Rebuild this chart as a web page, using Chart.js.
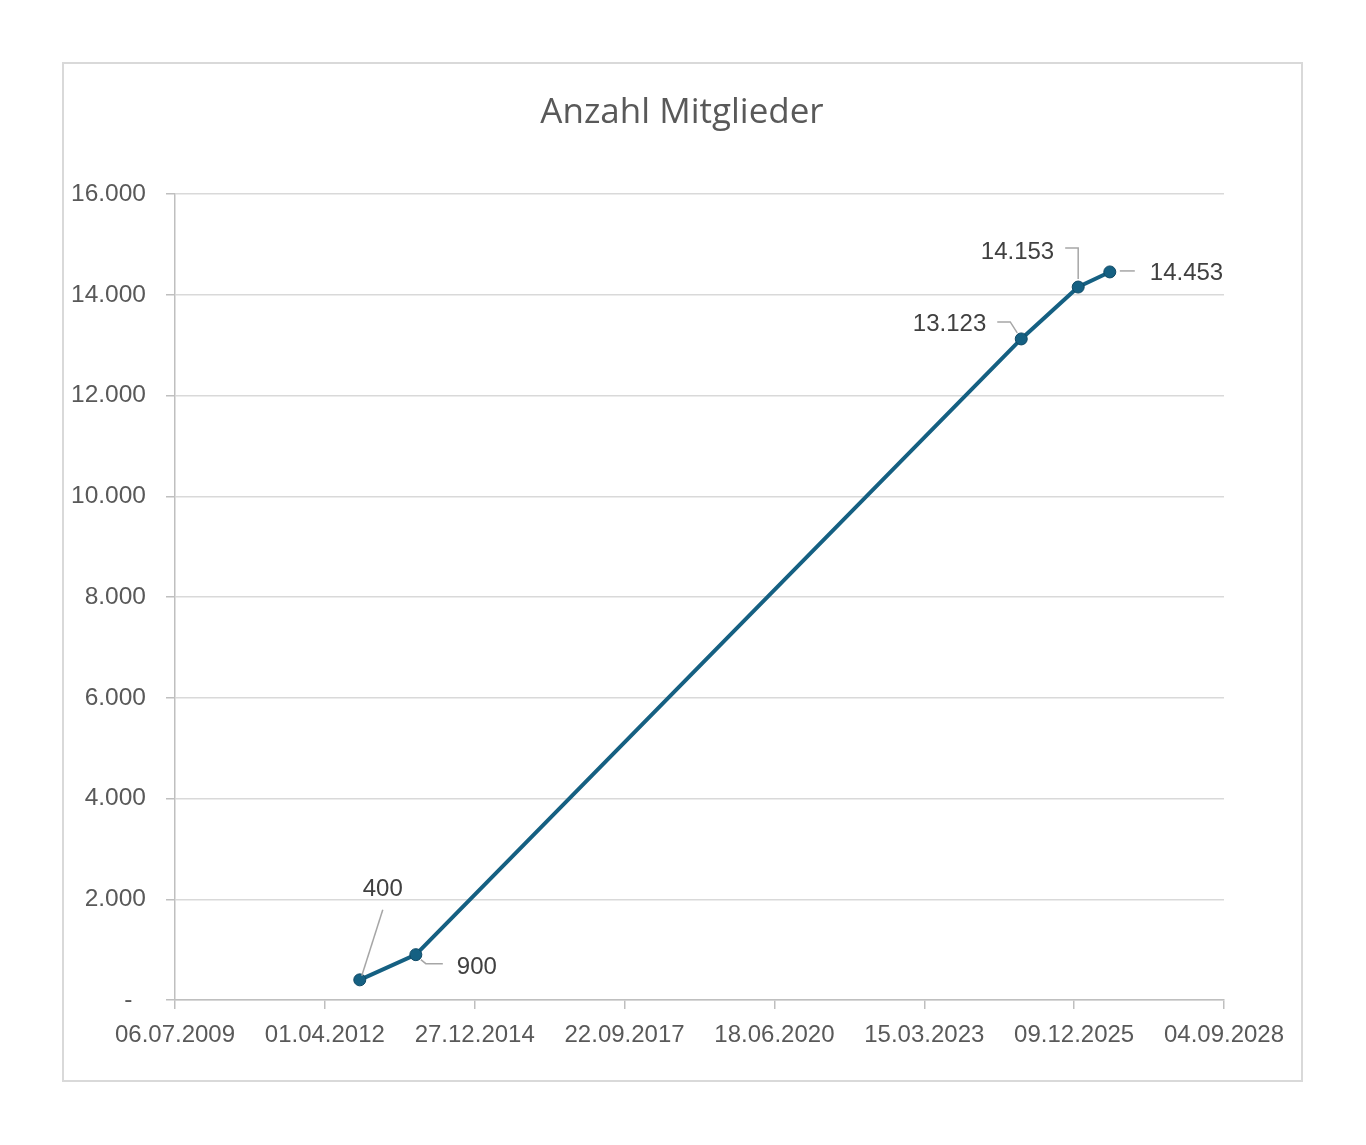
<!DOCTYPE html>
<html><head><meta charset="utf-8">
<script src="https://cdn.jsdelivr.net/npm/chart.js@4.4.0/dist/chart.umd.min.js"></script>
<style>html,body{margin:0;padding:0;background:#fff}#wrap{position:relative;width:1366px;height:1145px}</style>
</head><body><div id="wrap"><canvas id="c"></canvas></div>
<script>
// ---- data ----
const chartTitle = 'Anzahl Mitglieder';
const dates = ['2012-11-20', '2013-11-29', '2024-12-21', '2026-01-05', '2026-08-04'];
const members = [400, 900, 13123, 14153, 14453];
const xAxisFirstTick = '06.07.2009';
const xAxisLastTick = '04.09.2028';
const xTickStepDays = 1000;
const yMin = 0, yMax = 16000, yStep = 2000;

// ---- helpers ----
function isoToSerial(s) { const [y, m, d] = s.split('-').map(Number); return Math.round((Date.UTC(y, m - 1, d) - Date.UTC(1899, 11, 30)) / 86400000); }
function deToSerial(s) { const [d, m, y] = s.split('.').map(Number); return isoToSerial(y + '-' + m + '-' + d); }
function serialToDe(n) { const t = new Date(Date.UTC(1899, 11, 30) + n * 86400000); const p = v => String(v).padStart(2, '0'); return p(t.getUTCDate()) + '.' + p(t.getUTCMonth() + 1) + '.' + t.getUTCFullYear(); }
function fmtDe(v) { return Math.round(v).toString().replace(/\B(?=(\d{3})+(?!\d))/g, '.'); }

const points = dates.map((d, i) => ({ x: isoToSerial(d), y: members[i] }));

// label placement relative to each point (style, not data)
const labelLayout = [
  { dx: 23, dy: -90, align: 'center', path: [[2, -4], [23, -70]] },
  { dx: 41, dy: 13, align: 'left', path: [[5, 5], [10, 9], [27, 9]] },
  { dx: -35, dy: -15, align: 'right', path: [[-24, -17], [-11, -17], [-4, -6]] },
  { dx: -24, dy: -35, align: 'right', path: [[-13, -39], [0, -39], [0, -8]] },
  { dx: 40, dy: 1, align: 'left', path: [[10, -1], [25, -1]] }
];

const frame = {
  id: 'frame',
  beforeDraw(chart) {
    const c = chart.ctx;
    c.save();
    c.fillStyle = '#fff'; c.fillRect(0, 0, chart.width, chart.height);
    c.strokeStyle = '#d9d9d9'; c.lineWidth = 2;
    c.strokeRect(63, 63, 1239, 1018);
    c.fillStyle = '#595959';
    c.font = '35px "Open Sans", "Noto Sans", sans-serif';
    c.textAlign = 'center'; c.textBaseline = 'alphabetic';
    c.fillText(chartTitle, 682, 123);
    c.restore();
  }
};

const dataLabels = {
  id: 'dataLabels',
  afterDatasetsDraw(chart) {
    const c = chart.ctx;
    const meta = chart.getDatasetMeta(0);
    c.save();
    meta.data.forEach((el, i) => {
      const L = labelLayout[i];
      const x = el.x, y = el.y;
      c.strokeStyle = '#a6a6a6'; c.lineWidth = 1.5;
      c.beginPath();
      L.path.forEach((p, k) => { if (k === 0) c.moveTo(x + p[0], y + p[1]); else c.lineTo(x + p[0], y + p[1]); });
      c.stroke();
      c.fillStyle = '#404040';
      c.font = '24px "Liberation Sans", Arial, sans-serif';
      c.textAlign = L.align; c.textBaseline = 'middle';
      c.fillText(fmtDe(members[i]), x + L.dx, y + L.dy);
    });
    c.restore();
  }
};

new Chart(document.getElementById('c'), {
  type: 'line',
  data: {
    datasets: [{
      data: points,
      borderColor: '#156082',
      backgroundColor: '#156082',
      borderWidth: 4,
      pointRadius: 6,
      pointBorderWidth: 1,
      pointBorderColor: '#0f4a66',
      pointBackgroundColor: '#156082',
      tension: 0
    }]
  },
  options: {
    responsive: true,
    maintainAspectRatio: false,
    animation: false,
    devicePixelRatio: 1,
    layout: { padding: { left: 63, right: 142, top: 194, bottom: 64 } },
    plugins: {
      legend: { display: false },
      tooltip: { enabled: false },
      title: { display: false }
    },
    scales: {
      x: {
        type: 'linear',
        min: deToSerial(xAxisFirstTick),
        max: deToSerial(xAxisLastTick),
        afterFit(s) { s.height = 81; },
        ticks: {
          stepSize: xTickStepDays,
          autoSkip: false,
          maxRotation: 0,
          padding: 12,
          color: '#595959',
          font: { family: '"Liberation Sans", Arial, sans-serif', size: 24 },
          callback: v => serialToDe(v)
        },
        grid: { display: true, drawOnChartArea: false, drawTicks: true, tickLength: 9, color: '#bfbfbf', lineWidth: 1.5 },
        border: { display: true, color: '#bfbfbf', width: 1.5 }
      },
      y: {
        min: yMin, max: yMax,
        afterFit(s) { s.width = 112; },
        ticks: {
          stepSize: yStep,
          padding: 20,
          color: '#595959',
          font: { family: '"Liberation Sans", Arial, sans-serif', size: 24.5 },
          callback: v => v === 0 ? '-  ' : fmtDe(v)
        },
        grid: { color: '#d9d9d9', lineWidth: 1.5, tickLength: 9, tickColor: '#bfbfbf' },
        border: { display: true, color: '#bfbfbf', width: 1.5 }
      }
    }
  },
  plugins: [frame, dataLabels]
});
</script>
</body></html>
